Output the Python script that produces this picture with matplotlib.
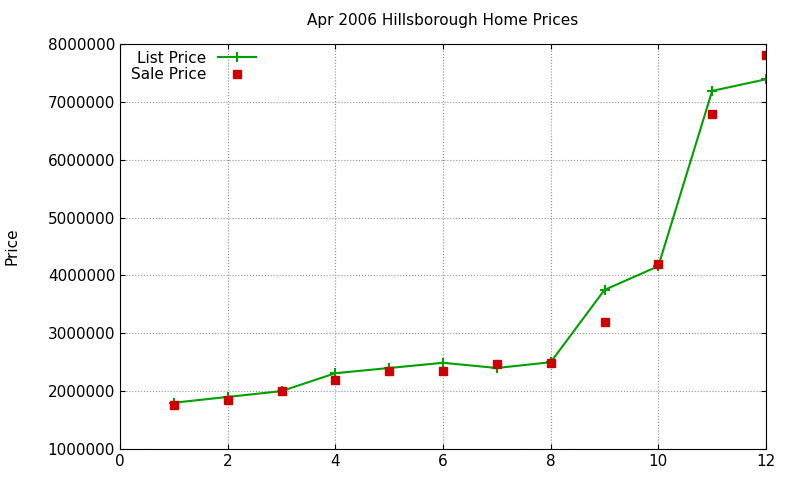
import matplotlib
matplotlib.use("Agg")
import matplotlib.pyplot as plt
from matplotlib.ticker import FuncFormatter

months = [1, 2, 3, 4, 5, 6, 7, 8, 9, 10, 11, 12]
list_price = [1800000, 1900000, 2000000, 2310000, 2400000, 2490000,
              2400000, 2500000, 3750000, 4160000, 7190000, 7390000]
sale_price = [1760000, 1850000, 2000000, 2190000, 2350000, 2350000,
              2470000, 2490000, 3200000, 4200000, 6790000, 7810000]

fig = plt.figure(figsize=(8, 4.8), dpi=100)
ax = fig.add_axes([120/800, 1-449/480, 646/800, 405/480])

ax.plot(months, list_price, color="#00a000", lw=1.5, marker="+", ms=7, mew=1.5,
        label="List Price")
ax.plot(months, sale_price, ls="none", marker="s", ms=6, color="#cc0000",
        label="Sale Price")

ax.set_xlim(0, 12)
ax.set_ylim(1000000, 8000000)
ax.set_xticks(range(0, 13, 2))
ax.set_yticks(range(1000000, 8000001, 1000000))
ax.yaxis.set_major_formatter(FuncFormatter(lambda v, p: "%d" % v))
ax.grid(True, ls=":", color="#909090", lw=0.8)
ax.tick_params(direction="in", labelsize=11, top=True, right=True)
ax.set_title("Apr 2006 Hillsborough Home Prices", fontsize=11, pad=14)
fig.text(12/800, 1-246/480, "Price", rotation=90, fontsize=11,
         ha="center", va="center")

leg = ax.legend(loc="upper left", bbox_to_anchor=(0.0, 1.01), frameon=False,
                markerfirst=False, fontsize=11, handlelength=2.5,
                borderaxespad=0.3, labelspacing=0.1)
for t in leg.get_texts():
    t.set_ha("right")

fig.savefig("out.png")
